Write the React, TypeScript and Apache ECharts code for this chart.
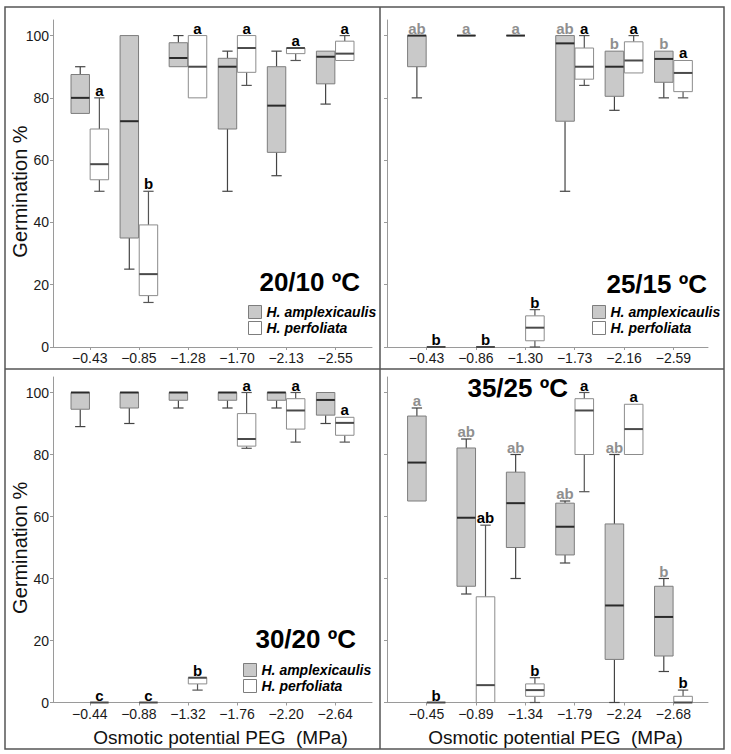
import React, { useEffect, useRef } from 'react';
import * as echarts from 'echarts';

// Category (tick) labels for each panel
const labelsTL = ['\u22120.43', '\u22120.85', '\u22121.28', '\u22121.70', '\u22122.13', '\u22122.55'];
const labelsTR = ['\u22120.43', '\u22120.86', '\u22121.30', '\u22121.73', '\u22122.16', '\u22122.59'];
const labelsBL = ['\u22120.44', '\u22120.88', '\u22121.32', '\u22121.76', '\u22122.20', '\u22122.64'];
const labelsBR = ['\u22120.45', '\u22120.89', '\u22121.34', '\u22121.79', '\u22122.24', '\u22122.68'];

// Box values: [min, Q1, median, Q3, max]
const ampTL = [[75, 75, 80, 87.5, 90], [25, 35, 72.5, 100, 100], [90, 90, 92.8, 97.7, 100], [50, 70, 90, 92.7, 95], [55, 62.5, 77.5, 90, 95], [78, 84.5, 93.2, 95, 95]];
const perTL = [[50, 53.7, 58.7, 70, 80], [14.3, 16.5, 23.4, 39.2, 50], [80, 80, 90, 100, 100], [84, 88.2, 96, 100, 100], [92, 94.2, 96, 96, 96], [92, 92, 94.2, 98.2, 100]];
const ampLetTL = ['', '', '', '', '', ''];
const perLetTL = ['a', 'b', 'a', 'a', 'a', 'a'];

const ampTR = [[80, 90, 100, 100, 100], [100, 100, 100, 100, 100], [100, 100, 100, 100, 100], [50, 72.5, 97.5, 100, 100], [76, 80.5, 90, 95, 95], [80, 85, 92.5, 95, 95]];
const perTR = [[0, 0, 0, 0, 0], [0, 0, 0, 0, 0], [0, 2, 6.2, 10, 12], [84, 86, 90, 96, 100], [88, 88, 92, 98, 100], [80, 82, 88, 92, 92]];
const ampLetTR = ['ab', 'a', 'a', 'ab', 'b', 'b'];
const perLetTR = ['b', 'b', 'b', 'a', 'a', 'a'];

const ampBL = [[89, 94.6, 100, 100, 100], [90, 95, 100, 100, 100], [95, 97.5, 100, 100, 100], [95, 97.5, 100, 100, 100], [95, 97.5, 100, 100, 100], [90, 92.7, 97.6, 100, 100]];
const perBL = [[0, 0, 0, 0, 0], [0, 0, 0, 0, 0], [4, 6, 8, 8, 8], [82, 82.7, 85, 93.2, 100], [84, 88.2, 94.2, 98, 100], [84, 86.2, 90.2, 92, 92]];
const ampLetBL = ['', '', '', '', '', ''];
const perLetBL = ['c', 'c', 'b', 'a', 'a', 'a'];

const ampBR = [[65, 65, 77.4, 92.4, 95], [35, 37.5, 59.6, 82.1, 85], [40, 50, 64.3, 74.3, 80], [45, 47.6, 56.7, 64.3, 65], [0, 13.9, 31.3, 57.6, 80], [10, 15, 27.6, 37.5, 40]];
const perBR = [[0, 0, 0, 0, 0], [0, 0, 5.6, 34.1, 57.2], [0, 2, 4, 6, 8], [68, 80, 94.2, 98, 100], [80, 80, 88.2, 96.2, 96.2], [0, 0, 0, 2, 4]];
const ampLetBR = ['a', 'ab', 'ab', 'ab', 'ab', 'b'];
const perLetBR = ['b', 'ab', 'b', 'a', 'a', 'b'];

const yTicks = [0, 20, 40, 60, 80, 100];
const xTicks = [1, 2, 3, 4, 5, 6];

const AMP = 'H. amplexicaulis';
const PER = 'H. perfoliata';
const FONT = '"Liberation Sans", Arial, Helvetica, sans-serif';

const GREY_FILL = '#c9c9c9';
const AXIS_COLOR = '#9a9a9a';

type Kind = 'amp' | 'per';

function makeRender(kind: Kind, letters: string[]) {
  return (params: any, api: any) => {
    const x = api.value(0);
    const off = kind === 'amp' ? -0.195 : 0.195;
    const unit = api.size([1, 0])[0];
    const cx = api.coord([x + off, 0])[0];
    const hw = unit * 0.188;
    const cap = unit * 0.105;
    const yy = (k: number) => api.coord([x, api.value(k)])[1];
    const vMin = api.value(1), vQ1 = api.value(2), vQ3 = api.value(4), vMax = api.value(5);
    const yMin = yy(1), yQ1 = yy(2), yMed = yy(3), yQ3 = yy(4), yMax = yy(5);
    const wStyle = { stroke: kind === 'amp' ? '#444' : '#555', lineWidth: 1.2, fill: null };
    const children: any[] = [];
    if (vMax > vQ3) {
      children.push({ type: 'line', shape: { x1: cx, y1: yQ3, x2: cx, y2: yMax }, style: wStyle });
      children.push({ type: 'line', shape: { x1: cx - cap, y1: yMax, x2: cx + cap, y2: yMax }, style: wStyle });
    }
    if (vMin < vQ1) {
      children.push({ type: 'line', shape: { x1: cx, y1: yQ1, x2: cx, y2: yMin }, style: wStyle });
      children.push({ type: 'line', shape: { x1: cx - cap, y1: yMin, x2: cx + cap, y2: yMin }, style: wStyle });
    }
    children.push({
      type: 'rect',
      shape: { x: cx - hw, y: yQ3, width: 2 * hw, height: yQ1 - yQ3 },
      style: { fill: kind === 'amp' ? GREY_FILL : '#ffffff', stroke: kind === 'amp' ? '#7d7d7d' : '#8c8c8c', lineWidth: 1 },
    });
    children.push({
      type: 'line',
      shape: { x1: cx - hw, y1: yMed, x2: cx + hw, y2: yMed },
      style: { stroke: kind === 'amp' ? '#2a2a2a' : '#4a4a4a', lineWidth: 2, fill: null },
    });
    const letter = letters[params.dataIndex];
    if (letter) {
      children.push({
        type: 'text',
        x: cx,
        y: yMax,
        style: {
          text: letter,
          fill: kind === 'amp' ? '#8f8f8f' : '#000000',
          font: 'bold 15px ' + FONT,
          align: 'center',
          verticalAlign: 'bottom',
        },
      });
    }
    return { type: 'group', children };
  };
}

function toData(boxes: number[][]) {
  return boxes.map((b, i) => [i + 1, ...b]);
}

function boxSeries(name: string, kind: Kind, boxes: number[][], letters: string[], gi: number) {
  return {
    type: 'custom',
    name,
    xAxisIndex: gi,
    yAxisIndex: gi,
    data: toData(boxes),
    encode: { x: 0, y: [1, 2, 3, 4, 5] },
    itemStyle: { color: kind === 'amp' ? GREY_FILL : '#ffffff', borderColor: '#7d7d7d', borderWidth: 1 },
    renderItem: makeRender(kind, letters),
    silent: true,
  };
}

const grids = [
  { left: 53, top: 20, width: 319, height: 327 },
  { left: 387, top: 20, width: 321, height: 327 },
  { left: 53, top: 377, width: 319, height: 325.5 },
  { left: 387, top: 377, width: 321, height: 325.5 },
];

function xAxis(gi: number, labels: string[], min: number, max: number, withName: boolean) {
  return {
    type: 'value',
    gridIndex: gi,
    min,
    max,
    splitLine: { show: false },
    axisLine: { show: true, lineStyle: { color: AXIS_COLOR, width: 1 } },
    axisTick: { show: true, length: 3, customValues: xTicks, lineStyle: { color: AXIS_COLOR } },
    axisLabel: {
      show: true,
      customValues: xTicks,
      formatter: (v: number) => labels[Math.round(v) - 1] ?? '',
      fontSize: 14,
      color: '#1a1a1a',
      fontFamily: FONT,
      margin: 4,
    },
    name: withName ? 'Osmotic potential PEG  (MPa)' : '',
    nameLocation: 'middle',
    nameGap: 25,
    nameMoveOverlap: false,
    nameTextStyle: { fontSize: 19, color: '#111', fontFamily: FONT, padding: [0, 0, 0, 16] },
  };
}

function yAxis(gi: number, showLabels: boolean) {
  return {
    type: 'value',
    gridIndex: gi,
    min: 0,
    max: 105,
    splitLine: { show: false },
    axisLine: { show: true, lineStyle: { color: AXIS_COLOR, width: 1 } },
    axisTick: { show: true, length: 3, customValues: yTicks, lineStyle: { color: AXIS_COLOR } },
    axisLabel: {
      show: showLabels,
      customValues: yTicks,
      fontSize: 14,
      color: '#1a1a1a',
      fontFamily: FONT,
      margin: 4,
    },
    name: showLabels ? 'Germination %' : '',
    nameLocation: 'middle',
    nameGap: 23,
    nameMoveOverlap: false,
    nameTextStyle: { fontSize: 20, color: '#111', fontFamily: FONT, padding: [0, 16, 0, 0] },
  };
}

function legend(left: number, top: number) {
  return {
    left,
    top,
    orient: 'vertical',
    padding: 0,
    itemWidth: 13,
    itemHeight: 13,
    itemGap: 2,
    icon: 'rect',
    selectedMode: false,
    textStyle: { fontSize: 14, fontWeight: 'bold', fontStyle: 'italic', color: '#000', fontFamily: FONT },
    data: [
      { name: AMP, itemStyle: { color: GREY_FILL, borderColor: '#7d7d7d', borderWidth: 1 } },
      { name: PER, itemStyle: { color: '#ffffff', borderColor: '#7d7d7d', borderWidth: 1 } },
    ],
  };
}

function titleText(text: string, right: number, cy: number) {
  return {
    type: 'text',
    x: right,
    y: cy,
    style: { text, fill: '#000', font: 'bold 26px ' + FONT, align: 'right', verticalAlign: 'middle' },
    silent: true,
  };
}

export default function App() {
  const ref = useRef<HTMLDivElement>(null);
  useEffect(() => {
    if (!ref.current) return;
    const chart = echarts.init(ref.current, undefined, { renderer: 'svg' });
    const option: any = {
      animation: false,
      backgroundColor: '#ffffff',
      grid: grids.map((g) => ({ ...g, containLabel: false, outerBoundsMode: 'none' })),
      xAxis: [
        xAxis(0, labelsTL, 0.25, 6.75, false),
        xAxis(1, labelsTR, 0.2, 6.7, false),
        xAxis(2, labelsBL, 0.25, 6.75, true),
        xAxis(3, labelsBR, 0.2, 6.7, true),
      ],
      yAxis: [yAxis(0, true), yAxis(1, false), yAxis(2, true), yAxis(3, false)],
      legend: [legend(248, 305), legend(592, 305), legend(243, 663)],
      series: [
        boxSeries(AMP, 'amp', ampTL, ampLetTL, 0),
        boxSeries(PER, 'per', perTL, perLetTL, 0),
        boxSeries(AMP, 'amp', ampTR, ampLetTR, 1),
        boxSeries(PER, 'per', perTR, perLetTR, 1),
        boxSeries(AMP, 'amp', ampBL, ampLetBL, 2),
        boxSeries(PER, 'per', perBL, perLetBL, 2),
        boxSeries(AMP, 'amp', ampBR, ampLetBR, 3),
        boxSeries(PER, 'per', perBR, perLetBR, 3),
      ],
      graphic: [
        { type: 'rect', shape: { x: 5, y: 7, width: 719, height: 742 }, style: { fill: 'none', stroke: '#555', lineWidth: 1.5 }, silent: true },
        { type: 'line', shape: { x1: 380, y1: 7, x2: 380, y2: 749 }, style: { stroke: '#555', lineWidth: 1.5 }, silent: true },
        { type: 'line', shape: { x1: 5, y1: 369, x2: 724, y2: 369 }, style: { stroke: '#555', lineWidth: 1.5 }, silent: true },
        titleText('20/10 \u00baC', 360, 282),
        titleText('25/15 \u00baC', 707, 284),
        titleText('30/20 \u00baC', 356, 639),
        titleText('35/25 \u00baC', 568, 388),
      ],
    };
    chart.setOption(option);
    return () => chart.dispose();
  }, []);
  return (
    <div
      ref={ref}
      style={{ position: 'absolute', left: 0, top: 0, width: 731, height: 754, background: '#fff' }}
    />
  );
}
